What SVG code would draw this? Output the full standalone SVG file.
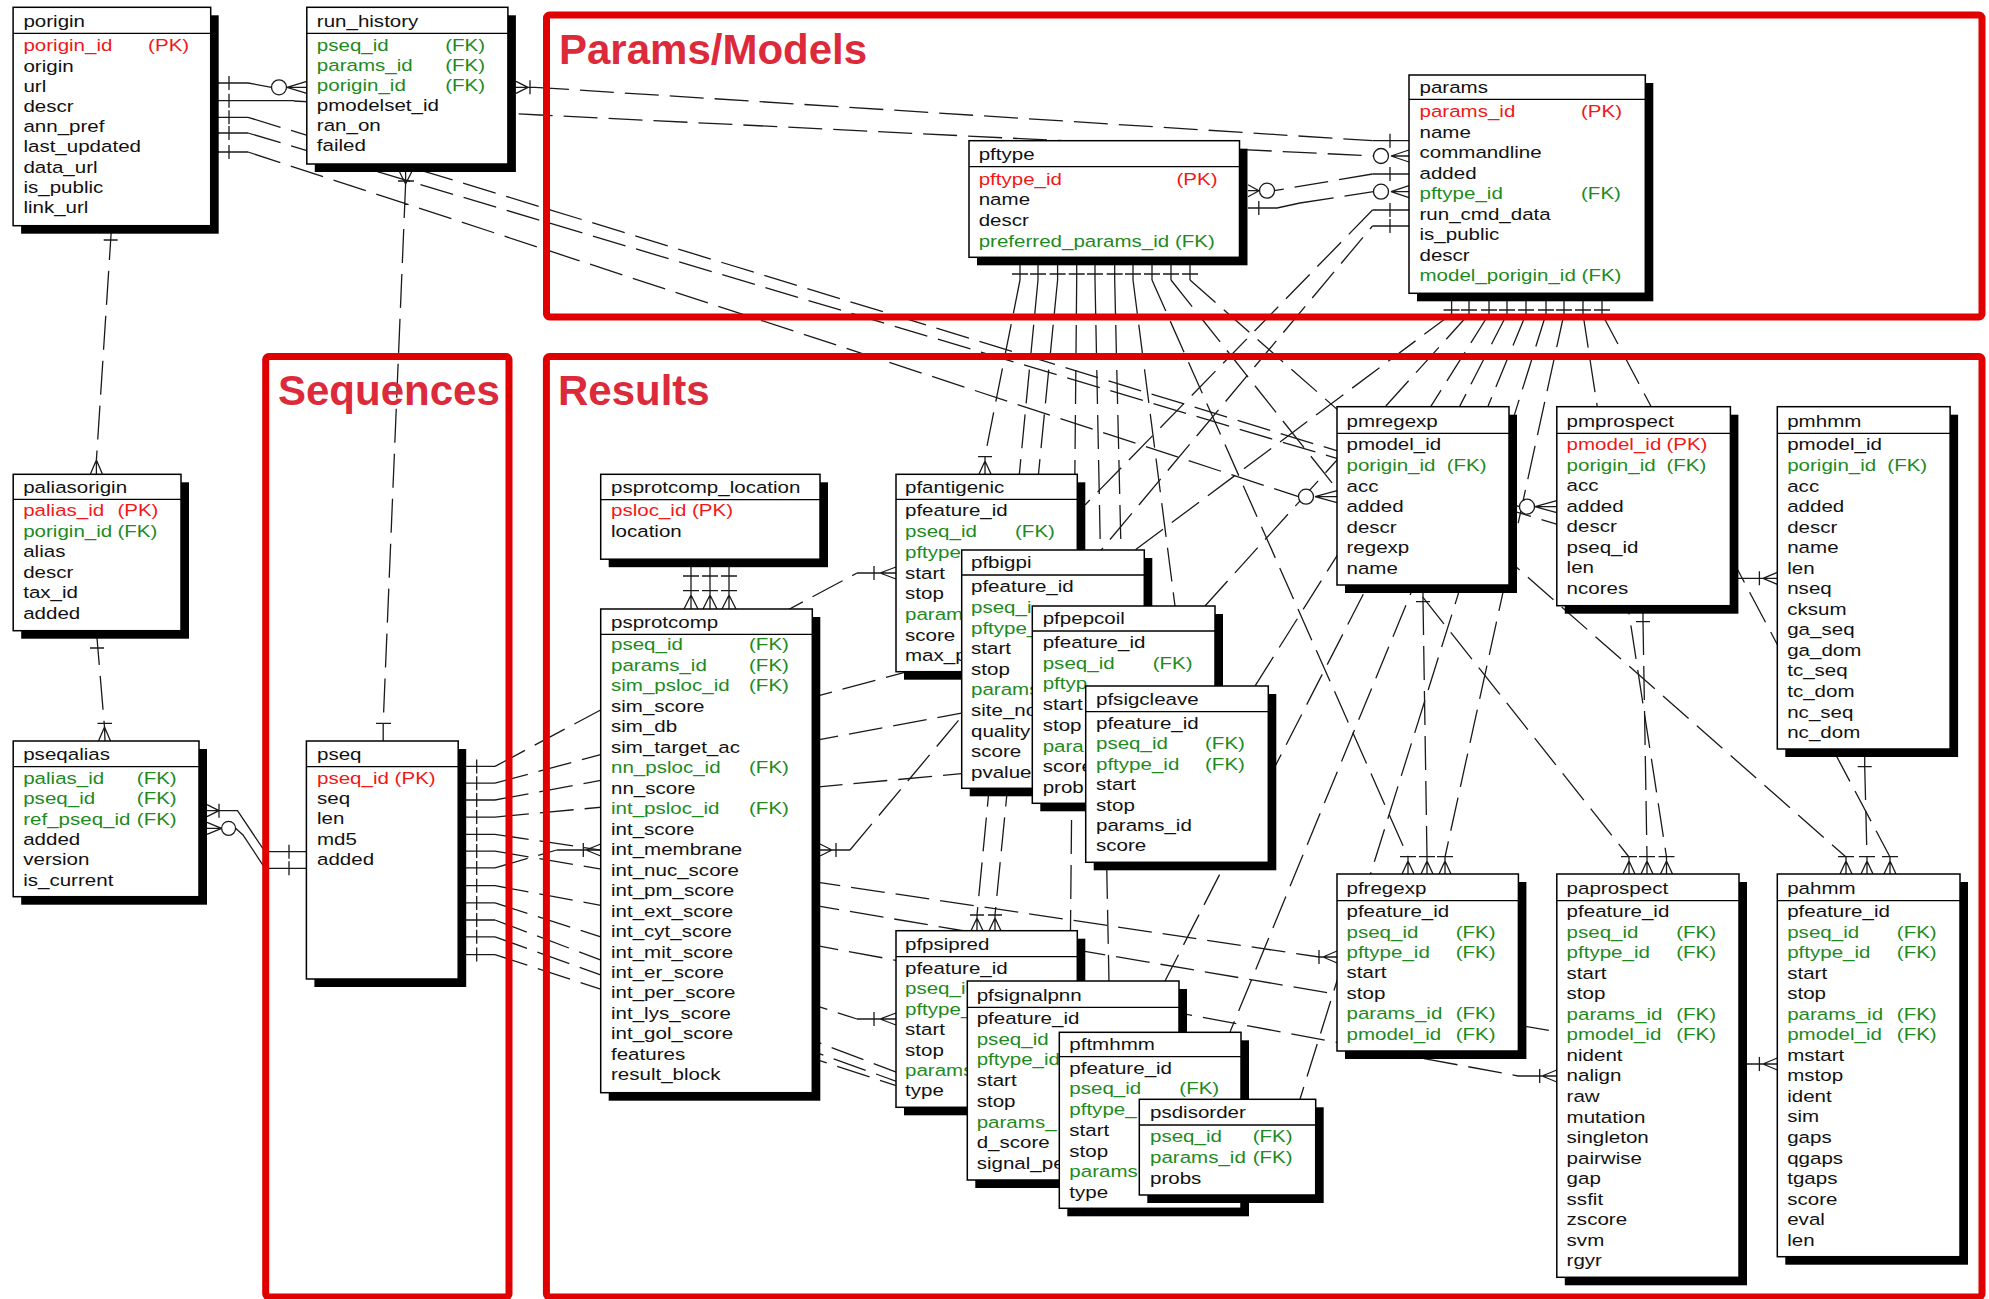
<svg xmlns="http://www.w3.org/2000/svg" width="1989" height="1299" viewBox="0 0 1989 1299">
<style>
.sh{fill:#000}
.bx{fill:#fff;stroke:#000;stroke-width:1.5}
.hl{stroke:#000;stroke-width:1.3;fill:none}
.t text{font-family:"Liberation Sans",Arial,sans-serif;font-size:16.3px;fill:#111}
.t .r{fill:#f01818}
.t .g{fill:#1e8a1e}
.c{fill:none;stroke:#1a1a1a;stroke-width:1.3;stroke-dasharray:34 11}
.s{fill:none;stroke:#1a1a1a;stroke-width:1.3}
.o{fill:#fff;stroke:#1a1a1a;stroke-width:1.3}
.frame{fill:none;stroke:#e00000;stroke-width:7}
.lbl{font-family:"Liberation Sans",Arial,sans-serif;font-size:42px;font-weight:bold;fill:#dc2a3a}
</style>
<rect width="1989" height="1299" fill="#fff"/>

<g id="connectors">
<path class="c" d="M535 87.3L1372.5 140.7 M294 101L540 115L1373.5 156 M248 117.3L1519.5 506.7 M248 133L1738 578.3 M248 152L1298.5 496.7 M111.6 226L96.4 460 M96.4 631L104.5 727 M405.6 184L383.2 723"/>
<path class="c" d="M495 766.4L857 573 M495 783.2L961.7 657 M495 800L1032.3 700 M495 817.1L1085.7 762 M495 834.3L1319 957 M495 851.1L1747 1064 M495 867.9L556.7 850 M495 885.7L1518 1076 M495 902.9L857 1019 M495 920L967.3 1099 M495 936.8L1059.3 1140 M495 954.6L1139.3 1165"/>
<path class="c" d="M850 850L1372.5 226 M1372.5 210L1085 505 M1300 203L1373.5 191.7 M1372.5 174L1274 190.7"/>
<path class="c" d="M1020 280L985 456 M1038 280L977 915 M1057.6 280L995 915 M1076.7 280L1070 981 M1095 280L1110 1032 M1114.7 280L1121 550 M1133 280L1175 606 M1152 280L1408 857 M1171 280L1629 857 M1190 280L1846 857"/>
<path class="c" d="M1451.6 314L1135 550 M1469 314L1205 606 M1489 314L1255 686 M1507 314L1165 981 M1526 314L1230 1032 M1546 314L1300 1099 M1564 314L1445 857 M1583 314L1666.5 857 M1602 314L1890 857"/>
<path class="c" d="M1423 601L1427 857 M1643 621L1647 857 M1864.7 766L1867 857"/>
<path class="s" d="M210.7 83H248L271.5 87.3 M210.7 100.7H294 M210.7 117.3H248 M210.7 133H248 M210.7 152H248 M229 76V90 M229 93.7V107.7 M229 110.3V124.3 M229 126V140 M229 145V159 M287 87.3L306.8 81.3M287 87.3H306.8M287 87.3L306.8 93.3"/>
<path class="s" d="M507.9 87.3H535 M528 87.3L516 81.3M528 87.3L516 93.3 M530 80.3V94.3 M1372.5 140.7H1409 M1390 133.7V147.7 M1391 156L1409 150M1391 156H1409M1391 156L1409 162 M1535 506.7L1556.8 500.7M1535 506.7H1556.8M1535 506.7L1556.8 512.7 M1738 578.3H1777.3 M1759.4 571.3V585.3 M1763 578.3L1777.3 572.3M1763 578.3L1777.3 584.3 M1315 496.7L1337 490.7M1315 496.7H1337M1315 496.7L1337 502.7"/>
<path class="s" d="M103.7 240H117.7 M96.4 460L90.4 474M96.4 460V474M96.4 460L102.4 474 M90 648H104 M97.5 723.3H112 M104.5 727L98.5 741M104.5 727L105 741M104.5 727L110.5 741 M405.6 184L399.6 172M405.6 184V172M405.6 184L411.6 172 M398 181H414 M376 723.3H391 M383.2 723V741"/>
<path class="s" d="M306.4 851.7H265L237.5 810.7H207 M289 844.7V858.7 M219 810.7L207 804.7M219 810.7L207 816.7 M219 803.7V817.7 M306.4 868.3H265L243 835L235.6 828.3 M221.6 828.3L207 822.3M221.6 828.3H207M221.6 828.3L207 834.3 M289 861.3V875.3"/>
<path class="s" d="M458.2 766.4H495M458.2 783.2H495M458.2 800H495M458.2 817.1H495M458.2 834.3H495M458.2 851.1H495M458.2 867.9H495M458.2 885.7H495M458.2 902.9H495M458.2 920H495M458.2 936.8H495M458.2 954.6H495 M476.7 759.4V773.4M476.7 776.2V790.2M476.7 793V807M476.7 810.1V824.1M476.7 827.3V841.3M476.7 844.1V858.1M476.7 860.9V874.9M476.7 878.7V892.7M476.7 895.9V909.9M476.7 913V927M476.7 929.8V943.8M476.7 947.6V961.6"/>
<path class="s" d="M857 573H896 M874 566V580 M880 573L896 567M880 573L896 579 M1319 957H1337 M1319 950V964 M1323 957L1337 951M1323 957L1337 963 M1747 1064H1777.3 M1759.4 1057V1071 M1763 1064L1777.3 1058M1763 1064L1777.3 1070 M556.7 850H600.7 M583.3 843V857 M586 850L600.7 844M586 850L600.7 856 M1518 1076H1556.8 M1539.7 1069V1083 M1542 1076L1556.8 1070M1542 1076L1556.8 1082 M857 1019H896 M874 1012V1026 M880 1019L896 1013M880 1019L896 1025"/>
<path class="s" d="M820 850H850 M832 850L820 844M832 850L820 856 M836 843V857 M1372.5 226H1409 M1390 219V233 M1409 210H1372.5 M1390 203V217 M1248 208H1277L1300 203 M1258.8 201V215 M1391 191.7L1409 185.7M1391 191.7H1409M1391 191.7L1409 197.7 M1409 174H1372.5 M1390 167V181 M1259 190.7L1248 184.7M1259 190.7H1248M1259 190.7L1248 196.7"/>
<path class="s" d="M1020 257V280M1038 257V280M1057.6 257V280M1076.7 257V280M1095 257V280M1114.7 257V280M1133 257V280M1152 257V280M1171 257V280M1190 257V280 M1012 274H1028M1030 274H1046M1049.6 274H1065.6M1068.7 274H1084.7M1087 274H1103M1106.7 274H1122.7M1125 274H1141M1144 274H1160M1163 274H1179M1182 274H1198"/>
<path class="s" d="M1451.6 293V314M1469 293V314M1489 293V314M1507 293V314M1526 293V314M1546 293V314M1564 293V314M1583 293V314M1602 293V314 M1443.6 310H1459.6M1461 310H1477M1481 310H1497M1499 310H1515M1518 310H1534M1538 310H1554M1556 310H1572M1575 310H1591M1594 310H1610"/>
<path class="s" d="M985 456V474 M978 456.7H992 M985 461L979 474M985 461L991 474 M977 915V930.7 M970 915H984 M977 918L971 930.7M977 918L983 930.7 M995 915V930.7 M988 915H1002 M995 918L989 930.7M995 918L1001 930.7"/>
<path class="s" d="M1408 857V874M1400 856.7H1416M1408 861L1402 874M1408 861L1414 874 M1427 857V874M1419 856.7H1435M1427 861L1421 874M1427 861L1433 874 M1445 857V874M1437 856.7H1453M1445 861L1439 874M1445 861L1451 874"/>
<path class="s" d="M1629 857V874M1621 856.7H1637M1629 861L1623 874M1629 861L1635 874 M1647 857V874M1639 856.7H1655M1647 861L1641 874M1647 861L1653 874 M1666.5 857V874M1658.5 856.7H1674.5M1666.5 861L1660.5 874M1666.5 861L1672.5 874"/>
<path class="s" d="M1846 857V874M1838 856.7H1854M1846 861L1840 874M1846 861L1852 874 M1867 857V874M1859 856.7H1875M1867 861L1861 874M1867 861L1873 874 M1890 857V874M1882 856.7H1898M1890 861L1884 874M1890 861L1896 874"/>
<path class="s" d="M1423 585V601 M1416 601.7H1430 M1643 605.7V621 M1636 621.7H1650 M1864.7 749V766 M1857.7 766.7H1871.7"/>
<path class="s" d="M691 559.2V609M710 559.2V609M729 559.2V609 M683 576H699M702 576H718M721 576H737 M683 590.6H699M702 590.6H718M721 590.6H737 M691 595L684 609M691 595L698 609 M710 595L703 609M710 595L717 609 M729 595L722 609M729 595L736 609"/>
<circle class="o" cx="279" cy="87.3" r="7.5"/>
<circle class="o" cx="1381" cy="156" r="7.5"/>
<circle class="o" cx="1527" cy="506.7" r="7.5"/>
<circle class="o" cx="1306" cy="496.7" r="7.5"/>
<circle class="o" cx="228.6" cy="828.3" r="7"/>
<circle class="o" cx="1381" cy="191.7" r="7.5"/>
<circle class="o" cx="1267" cy="190.7" r="7.5"/>
</g>

<g id="regions">
<rect class="frame" x="546.5" y="15" width="1435.5" height="302" rx="3"/>
<rect class="frame" x="265.7" y="356.5" width="243.3" height="940.5" rx="3"/>
<rect class="frame" x="546.4" y="356.5" width="1435.6" height="940.5" rx="3"/>
<text class="lbl" x="559" y="64">Params/Models</text>
<text class="lbl" x="278" y="405">Sequences</text>
<text class="lbl" x="558" y="405">Results</text>
</g>

<g id="porigin" transform="translate(13.1 7.3)">
<rect class="sh" x="8" y="8" width="197.6" height="218.4"/><rect class="bx" width="197.6" height="218.4"/><path class="hl" d="M0 26H197.6"/>
<g class="t" transform="translate(10.3 0) scale(1.26 1)"><text y="19.5">porigin</text><text class="r" y="44.2">porigin_id</text><text y="64.4">origin</text><text y="84.6">url</text><text y="104.8">descr</text><text y="125">ann_pref</text><text y="145.2">last_updated</text><text y="165.4">data_url</text><text y="185.6">is_public</text><text y="205.8">link_url</text></g>
<g class="t" transform="translate(135 0) scale(1.26 1)"><text class="r" y="44.2">(PK)</text></g>
</g>

<g id="run_history" transform="translate(306.8 7.3)">
<rect class="sh" x="8" y="8" width="201.1" height="156.7"/><rect class="bx" width="201.1" height="156.7"/><path class="hl" d="M0 26H201.1"/>
<g class="t" transform="translate(10 0) scale(1.26 1)"><text y="19.5">run_history</text><text class="g" y="44.2">pseq_id</text><text class="g" y="64.2">params_id</text><text class="g" y="84.2">porigin_id</text><text y="104.2">pmodelset_id</text><text y="124.2">ran_on</text><text y="144.2">failed</text></g>
<g class="t" transform="translate(138.4 0) scale(1.26 1)"><text class="g" y="44.2">(FK)</text><text class="g" y="64.2">(FK)</text><text class="g" y="84.2">(FK)</text></g>
</g>

<g id="pftype" transform="translate(969 140.7)">
<rect class="sh" x="8" y="8" width="270.5" height="116.6"/><rect class="bx" width="270.5" height="116.6"/><path class="hl" d="M0 26H270.5"/>
<g class="t" transform="translate(9.7 0) scale(1.26 1)"><text y="19.5">pftype</text><text class="r" y="44.1">pftype_id</text><text y="64.7">name</text><text y="85.3">descr</text><text class="g" y="105.9">preferred_params_id (FK)</text></g>
<g class="t" transform="translate(207.5 0) scale(1.26 1)"><text class="r" y="44.1">(PK)</text></g>
</g>

<g id="params" transform="translate(1409 75)">
<rect class="sh" x="8" y="8" width="236.3" height="218.3"/><rect class="bx" width="236.3" height="218.3"/><path class="hl" d="M0 24.3H236.3"/>
<g class="t" transform="translate(10.5 0) scale(1.26 1)"><text y="18.5">params</text><text class="r" y="42.1">params_id</text><text y="62.6">name</text><text y="83.1">commandline</text><text y="103.6">added</text><text class="g" y="124.1">pftype_id</text><text y="144.6">run_cmd_data</text><text y="165.1">is_public</text><text y="185.6">descr</text><text class="g" y="206.1">model_porigin_id (FK)</text></g>
<g class="t" transform="translate(172 0) scale(1.26 1)"><text class="r" y="42.1">(PK)</text><text class="g" y="124.1">(FK)</text></g>
</g>

<g id="paliasorigin" transform="translate(13.2 474.3)">
<rect class="sh" x="8" y="8" width="167.8" height="156.4"/><rect class="bx" width="167.8" height="156.4"/><path class="hl" d="M0 25H167.8"/>
<g class="t" transform="translate(10 0) scale(1.26 1)"><text y="18.5">paliasorigin</text><text class="r" y="42.2">palias_id</text><text class="g" y="62.7">porigin_id</text><text y="83.2">alias</text><text y="103.7">descr</text><text y="124.2">tax_id</text><text y="144.7">added</text></g>
<g class="t" transform="translate(104.2 0) scale(1.26 1)"><text class="r" y="42.2">(PK)</text><text class="g" y="62.7">(FK)</text></g>
</g>

<g id="pseqalias" transform="translate(13.2 741)">
<rect class="sh" x="8" y="8" width="185.8" height="155.7"/><rect class="bx" width="185.8" height="155.7"/><path class="hl" d="M0 25.7H185.8"/>
<g class="t" transform="translate(10 0) scale(1.26 1)"><text y="19.2">pseqalias</text><text class="g" y="43.1">palias_id</text><text class="g" y="63.4">pseq_id</text><text class="g" y="83.7">ref_pseq_id</text><text y="104">added</text><text y="124.3">version</text><text y="144.6">is_current</text></g>
<g class="t" transform="translate(123.6 0) scale(1.26 1)"><text class="g" y="43.1">(FK)</text><text class="g" y="63.4">(FK)</text><text class="g" y="83.7">(FK)</text></g>
</g>

<g id="pseq" transform="translate(306.4 741)">
<rect class="sh" x="8" y="8" width="151.8" height="238"/><rect class="bx" width="151.8" height="238"/><path class="hl" d="M0 25.7H151.8"/>
<g class="t" transform="translate(10.6 0) scale(1.26 1)"><text y="19.2">pseq</text><text class="r" y="43.1">pseq_id (PK)</text><text y="63.3">seq</text><text y="83.5">len</text><text y="103.7">md5</text><text y="123.9">added</text></g>
</g>

<g id="psprotcomp_location" transform="translate(600.7 474.3)">
<rect class="sh" x="8" y="8" width="219.3" height="84.9"/><rect class="bx" width="219.3" height="84.9"/><path class="hl" d="M0 25.3H219.3"/>
<g class="t" transform="translate(10.3 0) scale(1.26 1)"><text y="18.8">psprotcomp_location</text><text class="r" y="41.5">psloc_id (PK)</text><text y="63.2">location</text></g>
</g>

<g id="psprotcomp" transform="translate(600.7 609)">
<rect class="sh" x="8" y="8" width="211.6" height="483.7"/><rect class="bx" width="211.6" height="483.7"/><path class="hl" d="M0 25.3H211.6"/>
<g class="t" transform="translate(10.3 0) scale(1.26 1)"><text y="18.8">psprotcomp</text><text class="g" y="41.5">pseq_id</text><text class="g" y="61.97">params_id</text><text class="g" y="82.44">sim_psloc_id</text><text y="102.91">sim_score</text><text y="123.38">sim_db</text><text y="143.85">sim_target_ac</text><text class="g" y="164.32">nn_psloc_id</text><text y="184.79">nn_score</text><text class="g" y="205.26">int_psloc_id</text><text y="225.73">int_score</text><text y="246.2">int_membrane</text><text y="266.67">int_nuc_score</text><text y="287.14">int_pm_score</text><text y="307.61">int_ext_score</text><text y="328.08">int_cyt_score</text><text y="348.55">int_mit_score</text><text y="369.02">int_er_score</text><text y="389.49">int_per_score</text><text y="409.96">int_lys_score</text><text y="430.43">int_gol_score</text><text y="450.9">features</text><text y="471.37">result_block</text></g>
<g class="t" transform="translate(148.3 0) scale(1.26 1)"><text class="g" y="41.5">(FK)</text><text class="g" y="61.97">(FK)</text><text class="g" y="82.44">(FK)</text><text class="g" y="164.32">(FK)</text><text class="g" y="205.26">(FK)</text></g>
</g>

<g id="pfantigenic" transform="translate(896 474.3)">
<rect class="sh" x="8" y="8" width="181.3" height="197.4"/><rect class="bx" width="181.3" height="197.4"/><path class="hl" d="M0 25H181.3"/>
<g class="t" transform="translate(9 0) scale(1.26 1)"><text y="18.5">pfantigenic</text><text y="42.2">pfeature_id</text><text class="g" y="62.9">pseq_id</text><text class="g" y="83.6">pftype</text><text y="104.3">start</text><text y="125">stop</text><text class="g" y="145.7">param</text><text y="166.4">score</text><text y="187.1">max_p</text></g>
<g class="t" transform="translate(119 0) scale(1.26 1)"><text class="g" y="62.9">(FK)</text></g>
</g>

<g id="pfbigpi" transform="translate(961.7 550)">
<rect class="sh" x="8" y="8" width="182.6" height="238.3"/><rect class="bx" width="182.6" height="238.3"/><path class="hl" d="M0 25H182.6"/>
<g class="t" transform="translate(9.3 0) scale(1.26 1)"><text y="18.5">pfbigpi</text><text y="42.5">pfeature_id</text><text class="g" y="63.1">pseq_i</text><text class="g" y="83.7">pftype_</text><text y="104.3">start</text><text y="124.9">stop</text><text class="g" y="145.5">params</text><text y="166.1">site_no</text><text y="186.7">quality</text><text y="207.3">score</text><text y="227.9">pvalue</text></g>
</g>

<g id="pfpepcoil" transform="translate(1032.3 606)">
<rect class="sh" x="8" y="8" width="182.7" height="197.3"/><rect class="bx" width="182.7" height="197.3"/><path class="hl" d="M0 25H182.7"/>
<g class="t" transform="translate(10.4 0) scale(1.26 1)"><text y="18.5">pfpepcoil</text><text y="42.1">pfeature_id</text><text class="g" y="62.8">pseq_id</text><text class="g" y="83.5">pftyp</text><text y="104.2">start</text><text y="124.9">stop</text><text class="g" y="145.6">para</text><text y="166.3">score</text><text y="187">prob</text></g>
<g class="t" transform="translate(120.4 0) scale(1.26 1)"><text class="g" y="62.8">(FK)</text></g>
</g>

<g id="pfsigcleave" transform="translate(1085.7 686)">
<rect class="sh" x="8" y="8" width="182.6" height="176.3"/><rect class="bx" width="182.6" height="176.3"/><path class="hl" d="M0 25.7H182.6"/>
<g class="t" transform="translate(10.3 0) scale(1.26 1)"><text y="19.2">pfsigcleave</text><text y="43.1">pfeature_id</text><text class="g" y="63.5">pseq_id</text><text class="g" y="83.9">pftype_id</text><text y="104.3">start</text><text y="124.7">stop</text><text y="145.1">params_id</text><text y="165.5">score</text></g>
<g class="t" transform="translate(119.3 0) scale(1.26 1)"><text class="g" y="63.5">(FK)</text><text class="g" y="83.9">(FK)</text></g>
</g>

<g id="pfpsipred" transform="translate(896 930.7)">
<rect class="sh" x="8" y="8" width="181.3" height="176.6"/><rect class="bx" width="181.3" height="176.6"/><path class="hl" d="M0 26H181.3"/>
<g class="t" transform="translate(9 0) scale(1.26 1)"><text y="19.5">pfpsipred</text><text y="43.1">pfeature_id</text><text class="g" y="63.55">pseq_i</text><text class="g" y="84">pftype_</text><text y="104.45">start</text><text y="124.9">stop</text><text class="g" y="145.35">params</text><text y="165.8">type</text></g>
</g>

<g id="pfsignalpnn" transform="translate(967.3 981)">
<rect class="sh" x="8" y="8" width="211.7" height="199"/><rect class="bx" width="211.7" height="199"/><path class="hl" d="M0 26.3H211.7"/>
<g class="t" transform="translate(9.4 0) scale(1.26 1)"><text y="19.8">pfsignalpnn</text><text y="43.1">pfeature_id</text><text class="g" y="63.8">pseq_id</text><text class="g" y="84.5">pftype_id</text><text y="105.2">start</text><text y="125.9">stop</text><text class="g" y="146.6">params_</text><text y="167.3">d_score</text><text y="188">signal_pe</text></g>
</g>

<g id="pftmhmm" transform="translate(1059.3 1032.3)">
<rect class="sh" x="8" y="8" width="181.7" height="176"/><rect class="bx" width="181.7" height="176"/><path class="hl" d="M0 24.4H181.7"/>
<g class="t" transform="translate(10 0) scale(1.26 1)"><text y="18.2">pftmhmm</text><text y="41.5">pfeature_id</text><text class="g" y="62.2">pseq_id</text><text class="g" y="82.9">pftype_</text><text y="103.6">start</text><text y="124.3">stop</text><text class="g" y="145">params</text><text y="165.7">type</text></g>
<g class="t" transform="translate(120 0) scale(1.26 1)"><text class="g" y="62.2">(FK)</text></g>
</g>

<g id="psdisorder" transform="translate(1139.3 1099.3)">
<rect class="sh" x="8" y="8" width="176.4" height="95.7"/><rect class="bx" width="176.4" height="95.7"/><path class="hl" d="M0 25.7H176.4"/>
<g class="t" transform="translate(10.7 0) scale(1.26 1)"><text y="19.2">psdisorder</text><text class="g" y="43.2">pseq_id</text><text class="g" y="64">params_id</text><text y="84.8">probs</text></g>
<g class="t" transform="translate(113.4 0) scale(1.26 1)"><text class="g" y="43.2">(FK)</text><text class="g" y="64">(FK)</text></g>
</g>

<g id="pmregexp" transform="translate(1337 406.7)">
<rect class="sh" x="8" y="8" width="172" height="178.3"/><rect class="bx" width="172" height="178.3"/><path class="hl" d="M0 26.6H172"/>
<g class="t" transform="translate(9.5 0) scale(1.26 1)"><text y="20">pmregexp</text><text y="43.8">pmodel_id</text><text class="g" y="64.4">porigin_id</text><text y="85">acc</text><text y="105.6">added</text><text y="126.2">descr</text><text y="146.8">regexp</text><text y="167.4">name</text></g>
<g class="t" transform="translate(109.7 0) scale(1.26 1)"><text class="g" y="64.4">(FK)</text></g>
</g>

<g id="pmprospect" transform="translate(1556.8 406.7)">
<rect class="sh" x="8" y="8" width="173.6" height="199"/><rect class="bx" width="173.6" height="199"/><path class="hl" d="M0 26.6H173.6"/>
<g class="t" transform="translate(9.8 0) scale(1.26 1)"><text y="20">pmprospect</text><text class="r" y="43.8">pmodel_id</text><text class="g" y="64.3">porigin_id</text><text y="84.8">acc</text><text y="105.3">added</text><text y="125.8">descr</text><text y="146.3">pseq_id</text><text y="166.8">len</text><text y="187.3">ncores</text></g>
<g class="t" transform="translate(109.6 0) scale(1.26 1)"><text class="r" y="43.8">(PK)</text><text class="g" y="64.3">(FK)</text></g>
</g>

<g id="pmhmm" transform="translate(1777.3 406.7)">
<rect class="sh" x="8" y="8" width="172.8" height="342.3"/><rect class="bx" width="172.8" height="342.3"/><path class="hl" d="M0 26.6H172.8"/>
<g class="t" transform="translate(9.9 0) scale(1.26 1)"><text y="20">pmhmm</text><text y="43.8">pmodel_id</text><text class="g" y="64.34">porigin_id</text><text y="84.88">acc</text><text y="105.42">added</text><text y="125.96">descr</text><text y="146.5">name</text><text y="167.04">len</text><text y="187.58">nseq</text><text y="208.12">cksum</text><text y="228.66">ga_seq</text><text y="249.2">ga_dom</text><text y="269.74">tc_seq</text><text y="290.28">tc_dom</text><text y="310.82">nc_seq</text><text y="331.36">nc_dom</text></g>
<g class="t" transform="translate(110 0) scale(1.26 1)"><text class="g" y="64.34">(FK)</text></g>
</g>

<g id="pfregexp" transform="translate(1337 874)">
<rect class="sh" x="8" y="8" width="181.4" height="177"/><rect class="bx" width="181.4" height="177"/><path class="hl" d="M0 26.7H181.4"/>
<g class="t" transform="translate(9.5 0) scale(1.26 1)"><text y="20.2">pfregexp</text><text y="43.1">pfeature_id</text><text class="g" y="63.55">pseq_id</text><text class="g" y="84">pftype_id</text><text y="104.45">start</text><text y="124.9">stop</text><text class="g" y="145.35">params_id</text><text class="g" y="165.8">pmodel_id</text></g>
<g class="t" transform="translate(118.7 0) scale(1.26 1)"><text class="g" y="63.55">(FK)</text><text class="g" y="84">(FK)</text><text class="g" y="145.35">(FK)</text><text class="g" y="165.8">(FK)</text></g>
</g>

<g id="paprospect" transform="translate(1556.8 874)">
<rect class="sh" x="8" y="8" width="182.2" height="403.3"/><rect class="bx" width="182.2" height="403.3"/><path class="hl" d="M0 26.7H182.2"/>
<g class="t" transform="translate(9.8 0) scale(1.26 1)"><text y="20.2">paprospect</text><text y="43.1">pfeature_id</text><text class="g" y="63.65">pseq_id</text><text class="g" y="84.2">pftype_id</text><text y="104.75">start</text><text y="125.3">stop</text><text class="g" y="145.85">params_id</text><text class="g" y="166.4">pmodel_id</text><text y="186.95">nident</text><text y="207.5">nalign</text><text y="228.05">raw</text><text y="248.6">mutation</text><text y="269.15">singleton</text><text y="289.7">pairwise</text><text y="310.25">gap</text><text y="330.8">ssfit</text><text y="351.35">zscore</text><text y="371.9">svm</text><text y="392.45">rgyr</text></g>
<g class="t" transform="translate(119.4 0) scale(1.26 1)"><text class="g" y="63.65">(FK)</text><text class="g" y="84.2">(FK)</text><text class="g" y="145.85">(FK)</text><text class="g" y="166.4">(FK)</text></g>
</g>

<g id="pahmm" transform="translate(1777.3 874)">
<rect class="sh" x="8" y="8" width="182.7" height="382.7"/><rect class="bx" width="182.7" height="382.7"/><path class="hl" d="M0 26.7H182.7"/>
<g class="t" transform="translate(9.9 0) scale(1.26 1)"><text y="20.2">pahmm</text><text y="43.1">pfeature_id</text><text class="g" y="63.64">pseq_id</text><text class="g" y="84.18">pftype_id</text><text y="104.72">start</text><text y="125.26">stop</text><text class="g" y="145.8">params_id</text><text class="g" y="166.34">pmodel_id</text><text y="186.88">mstart</text><text y="207.42">mstop</text><text y="227.96">ident</text><text y="248.5">sim</text><text y="269.04">gaps</text><text y="289.58">qgaps</text><text y="310.12">tgaps</text><text y="330.66">score</text><text y="351.2">eval</text><text y="371.74">len</text></g>
<g class="t" transform="translate(119.5 0) scale(1.26 1)"><text class="g" y="63.64">(FK)</text><text class="g" y="84.18">(FK)</text><text class="g" y="145.8">(FK)</text><text class="g" y="166.34">(FK)</text></g>
</g>
</svg>
